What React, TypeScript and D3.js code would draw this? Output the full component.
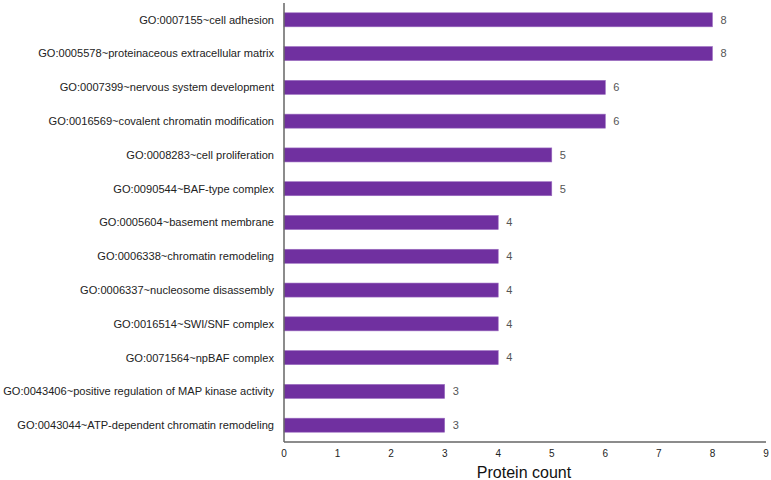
import React, { useEffect, useRef } from 'react';
import * as d3 from 'd3';

const categories = [
  'GO:0007155~cell adhesion',
  'GO:0005578~proteinaceous extracellular matrix',
  'GO:0007399~nervous system development',
  'GO:0016569~covalent chromatin modification',
  'GO:0008283~cell proliferation',
  'GO:0090544~BAF-type complex',
  'GO:0005604~basement membrane',
  'GO:0006338~chromatin remodeling',
  'GO:0006337~nucleosome disassembly',
  'GO:0016514~SWI/SNF complex',
  'GO:0071564~npBAF complex',
  'GO:0043406~positive regulation of MAP kinase activity',
  'GO:0043044~ATP-dependent chromatin remodeling',
];
const counts = [8, 8, 6, 6, 5, 5, 4, 4, 4, 4, 4, 3, 3];
const xTicks = [0, 1, 2, 3, 4, 5, 6, 7, 8, 9];

const width = 771;
const height = 480;

const App: React.FC = () => {
  const svgRef = useRef<SVGSVGElement>(null);

  useEffect(() => {
    if (!svgRef.current) return;
    const svg = d3.select(svgRef.current);
    svg.selectAll('*').remove();

    const font = 'Liberation Sans, Arial, sans-serif';
    const left = 284;
    const right = 766;
    const top = 3;
    const bottom = 442;

    const x = d3.scaleLinear().domain([0, 9]).range([left, right]);
    const y = d3.scaleBand<string>()
      .domain(categories)
      .range([top, bottom])
      .paddingInner(0.585)
      .paddingOuter(0.29);

    const data = categories.map((c, i) => ({ c, v: counts[i] }));

    // bars
    svg.append('g')
      .selectAll('rect')
      .data(data)
      .enter()
      .append('rect')
      .attr('x', x(0))
      .attr('y', d => y(d.c) as number)
      .attr('width', d => x(d.v) - x(0))
      .attr('height', y.bandwidth())
      .attr('fill', '#7030a0')
      .attr('stroke', '#9b6cc0')
      .attr('stroke-width', 0.6);

    // value labels
    svg.append('g')
      .selectAll('text')
      .data(data)
      .enter()
      .append('text')
      .attr('x', d => x(d.v) + 8)
      .attr('y', d => (y(d.c) as number) + y.bandwidth() / 2)
      .attr('dy', '0.35em')
      .attr('font-family', font)
      .attr('font-size', 11)
      .attr('fill', '#555')
      .text(d => d.v);

    // category labels
    svg.append('g')
      .selectAll('text')
      .data(data)
      .enter()
      .append('text')
      .attr('x', left - 10)
      .attr('y', d => (y(d.c) as number) + y.bandwidth() / 2)
      .attr('dy', '0.35em')
      .attr('text-anchor', 'end')
      .attr('font-family', font)
      .attr('font-size', 11.1)
      .attr('fill', '#222')
      .text(d => d.c);

    // axes lines
    svg.append('line')
      .attr('x1', left).attr('x2', left)
      .attr('y1', top).attr('y2', bottom)
      .attr('stroke', '#666').attr('stroke-width', 1.5);
    svg.append('line')
      .attr('x1', left).attr('x2', right)
      .attr('y1', bottom).attr('y2', bottom)
      .attr('stroke', '#666').attr('stroke-width', 1.5);

    // x tick labels
    svg.append('g')
      .selectAll('text')
      .data(xTicks)
      .enter()
      .append('text')
      .attr('x', d => x(d))
      .attr('y', bottom + 11)
      .attr('dy', '0.35em')
      .attr('text-anchor', 'middle')
      .attr('font-family', font)
      .attr('font-size', 10)
      .attr('fill', '#222')
      .text(d => d);

    svg.append('text')
      .attr('x', 524)
      .attr('y', 472)
      .attr('dy', '0.35em')
      .attr('text-anchor', 'middle')
      .attr('font-family', font)
      .attr('font-size', 16)
      .attr('fill', '#111')
      .text('Protein count');
  }, []);

  return (
    <svg
      ref={svgRef}
      width={width}
      height={height}
      style={{ position: 'absolute', left: 0, top: 0, background: '#fff' }}
    />
  );
};

export default App;
